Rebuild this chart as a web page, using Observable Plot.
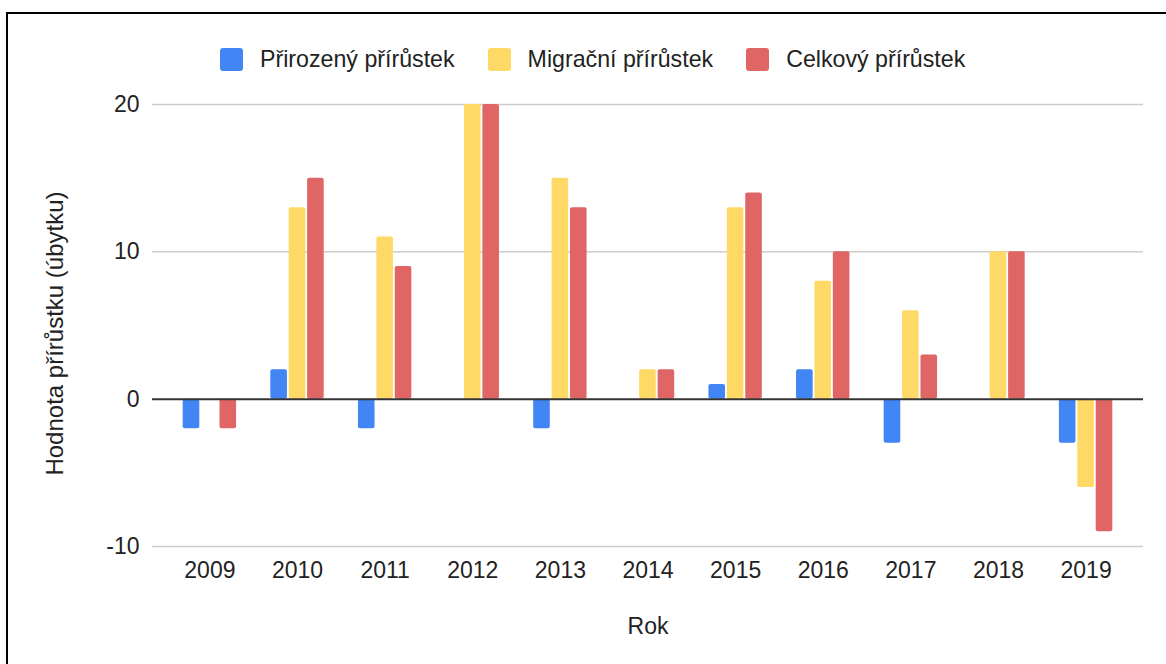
<!DOCTYPE html>
<html>
<head>
<meta charset="utf-8">
<script src="https://cdn.jsdelivr.net/npm/d3@7"></script>
<script src="https://cdn.jsdelivr.net/npm/@observablehq/plot@0.6"></script>
<style>
  html, body { margin: 0; padding: 0; background: #fff; overflow: hidden; }
  body { width: 1166px; height: 664px; position: relative; font-family: "Liberation Sans", Arial, sans-serif; }
  #frame { position: absolute; left: 6px; top: 12px; width: 1200px; height: 700px;
           border-top: 2px solid #000; border-left: 2px solid #000; }
  #chart { position: absolute; left: 0; top: 0; }
  #legend { position: absolute; left: 220px; top: 48px; height: 23px; display: flex; align-items: center;
            font-size: 23.2px; color: #222; white-space: nowrap; }
  .item { display: flex; align-items: center; margin-right: 33px; }
  .sw { width: 23px; height: 23px; border-radius: 3px; margin-right: 17px; }
</style>
</head>
<body>
<div id="frame"></div>
<div id="chart"></div>
<div id="legend"></div>
<script>
const years = ["2009","2010","2011","2012","2013","2014","2015","2016","2017","2018","2019"];
const prirozeny = [-2, 2, -2, 0, -2, 0, 1, 2, -3, 0, -3];
const migracni  = [ 0, 13, 11, 20, 15, 2, 13, 8, 6, 10, -6];
const celkovy   = [-2, 15, 9, 20, 13, 2, 14, 10, 3, 10, -9];
const seriesNames = ["Přirozený přírůstek", "Migrační přírůstek", "Celkový přírůstek"];
const seriesColors = ["#4285F4", "#FFD966", "#E06666"];
const yTicks = [-10, 0, 10, 20];
const gridTicks = [-10, 10, 20];
const xTitle = "Rok";
const yTitle = "Hodnota přírůstku (úbytku)";

const seriesValues = [prirozeny, migracni, celkovy];

const W = 1166, H = 664, mL = 152, mR = 23, mT = 104, mB = 118;
const pInner = 0.37, pOuter = 0.34;
const step = (W - mL - mR) / (years.length - pInner + 2 * pOuter);
const bw = step * (1 - pInner);
const third = bw / 3, gap = 0.9;

const barMarks = seriesValues.map((vals, i) =>
  Plot.barY(
    years.map((y, j) => ({year: y, value: vals[j], series: seriesNames[i]})).filter(d => d.value !== 0),
    {x: "year", y: "value", fill: seriesColors[i],
     insetLeft: i * third + gap, insetRight: (2 - i) * third + gap, rx: 2}
  )
);

const chart = Plot.plot({
  width: W, height: H,
  marginLeft: mL, marginRight: mR, marginTop: mT, marginBottom: mB,
  style: {fontSize: "23px", fontFamily: "'Liberation Sans', Arial, sans-serif", color: "#222", background: "transparent"},
  x: {domain: years, paddingInner: pInner, paddingOuter: pOuter, round: false, tickSize: 0, tickPadding: 15, label: null},
  y: {domain: [-10, 20], ticks: yTicks, tickFormat: d => String(d), tickSize: 0, tickPadding: 13, label: null},
  marks: [
    Plot.ruleY(gridTicks, {stroke: "#cccccc", strokeWidth: 1.5}),
    ...barMarks,
    Plot.ruleY([0], {stroke: "#333333", strokeWidth: 2}),
    Plot.text([yTitle], {text: d => d, frameAnchor: "left", textAnchor: "middle", lineAnchor: "middle",
                         rotate: -90, dx: -97, dy: 8, fontSize: 24, fill: "#222"}),
    Plot.text([xTitle], {text: d => d, frameAnchor: "bottom", textAnchor: "middle", lineAnchor: "middle",
                         dy: 80, fontSize: 23, fill: "#222"})
  ]
});
document.getElementById("chart").appendChild(chart);

const legend = document.getElementById("legend");
seriesNames.forEach((name, i) => {
  const item = document.createElement("div");
  item.className = "item";
  const sw = document.createElement("div");
  sw.className = "sw";
  sw.style.background = seriesColors[i];
  const label = document.createElement("span");
  label.textContent = name;
  item.appendChild(sw);
  item.appendChild(label);
  legend.appendChild(item);
});
</script>
</body>
</html>
